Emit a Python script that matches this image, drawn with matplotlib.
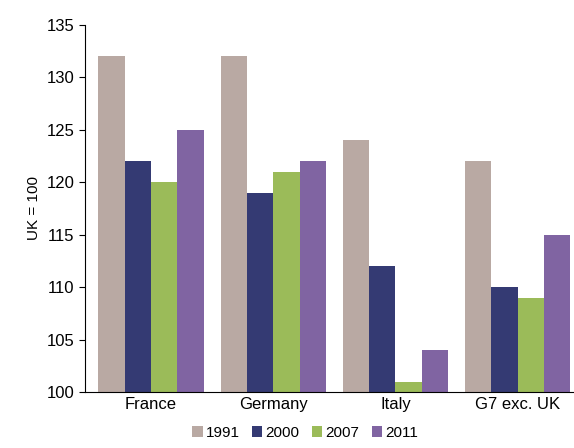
import matplotlib
matplotlib.use("Agg")
import matplotlib.pyplot as plt
import numpy as np

categories = ["France", "Germany", "Italy", "G7 exc. UK"]
years = ["1991", "2000", "2007", "2011"]
v1991 = [132, 132, 124, 122]
v2000 = [122, 119, 112, 110]
v2007 = [120, 121, 101, 109]
v2011 = [125, 122, 104, 115]
colors = ["#B9A9A3", "#343A73", "#9BBB59", "#8064A2"]

fig = plt.figure(figsize=(5.74, 4.48), dpi=100)
ax = fig.add_axes([0.148, 0.125, 0.852, 0.82])
x = np.arange(len(categories))
w = 0.215
for i, (vals, c, y) in enumerate(zip([v1991, v2000, v2007, v2011], colors, years)):
    ax.bar(x + (i - 1.5) * w, np.array(vals) - 100, w, bottom=100, color=c, label=y)
ax.set_ylim(100, 135)
ax.set_xlim(-0.54, 3.46)
ax.set_yticks(range(100, 136, 5))
ax.set_xticks(x)
ax.set_xticklabels(categories, fontsize=12, family="Liberation Sans")
for t in ax.get_yticklabels():
    t.set_fontsize(12); t.set_family("Liberation Sans")
ax.set_ylabel("UK = 100", fontsize=11, family="Liberation Sans")
ax.spines["top"].set_visible(False)
ax.spines["right"].set_visible(False)
ax.tick_params(axis="x", length=0)
ax.tick_params(axis="y", direction="out", length=4)
ax.legend(loc="lower center", bbox_to_anchor=(0.45, -0.155), ncol=4, frameon=False,
          handlelength=0.7, handleheight=0.7, handletextpad=0.2, columnspacing=0.8,
          borderpad=0.1, prop={"family": "Liberation Sans", "size": 11})
fig.savefig("out.png", dpi=100)
